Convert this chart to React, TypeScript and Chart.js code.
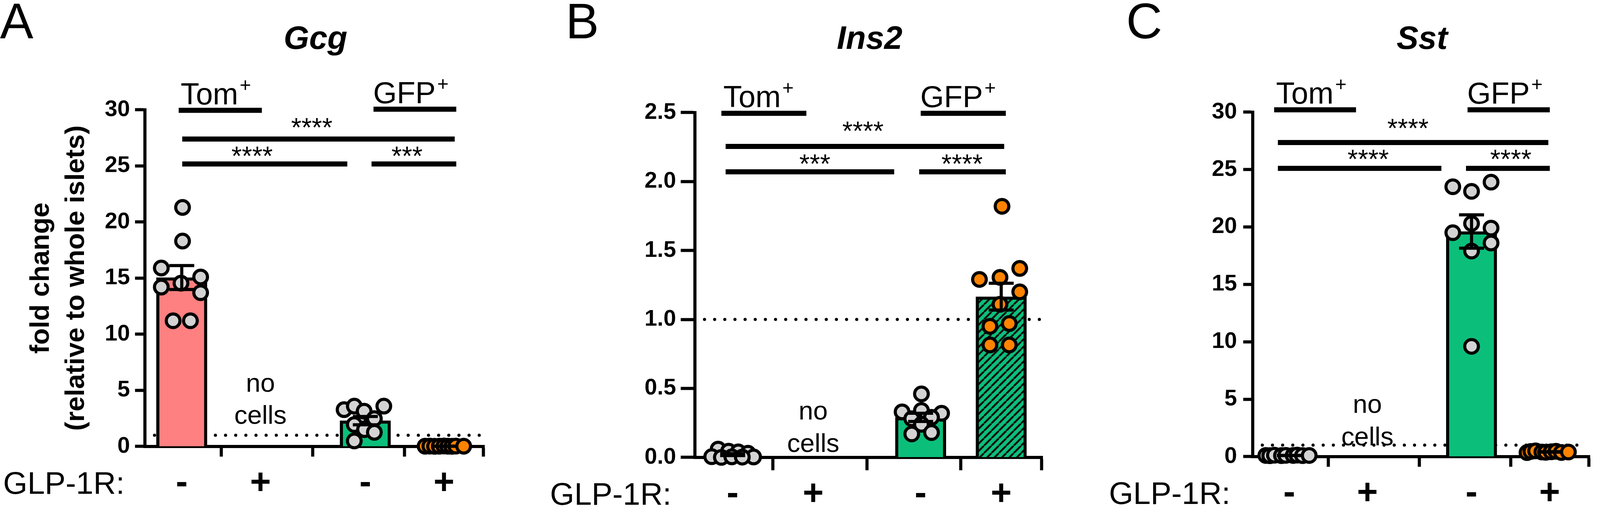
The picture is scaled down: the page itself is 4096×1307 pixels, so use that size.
import React, { useEffect, useRef } from "react";
import { Chart, registerables } from "chart.js";
Chart.register(...registerables);

const S = 4096 / 4100;
const H = 1307;
const FF = '"Liberation Sans", Arial, Helvetica, sans-serif';
const PINK = "#ff8080";
const GREEN = "#0bbf7b";
const GRAY = "#d3d3d3";
const ORANGE = "#ff8300";
const INK = "#000000";

// x categories (GLP-1R status) and their positions on the axis
const glpLabels = ["-", "+", "-", "+"];
const catX = [0, 1, 2.333, 3.333];
const barFills = ["pink", "none", "green", "hatch"];

// ---------- Panel A: Gcg ----------
const gcgMeans = [15.05, null, 2.3, 0.02];
const gcgSems = [1.07, null, 0.37, 0.01];
const gcgTomNeg = [21.3, 18.3, 15.9, 15.1, 14.55, 14.2, 13.7, 11.2, 11.2];
const gcgTomNegJit = [0.01, 0.01, -0.26, 0.24, -0.01, -0.26, 0.24, -0.11, 0.11];
const gcgGfpNeg = [3.28, 3.59, 3.14, 3.59, 2.48, 1.95, 1.5, 1.26, 0.49];
const gcgGfpNegJit = [-0.27, -0.14, -0.015, 0.235, 0.115, -0.14, -0.01, 0.115, -0.14];
const gcgGfpPos = [0.02, 0.03, 0.01, 0.02, 0.04, 0.02, 0.01, 0.03, 0.02];
const gcgGfpPosJit = [-0.24, -0.18, -0.12, -0.06, 0, 0.05, 0.1, 0.15, 0.25];
const gcgTicks = [0, 5, 10, 15, 20, 25, 30];

// ---------- Panel B: Ins2 ----------
const ins2Means = [0.02, null, 0.29, 1.165];
const ins2Sems = [0.007, null, 0.03, 0.097];
const ins2TomNeg = [0.06, 0.045, 0.04, 0.03, 0.003, 0.005, 0.0, 0.004, 0.002];
const ins2TomNegJit = [-0.18, -0.05, 0.07, 0.19, 0.26, -0.26, -0.14, -0.01, 0.12];
const ins2GfpNeg = [0.46, 0.33, 0.34, 0.32, 0.28, 0.29, 0.24, 0.17, 0.18];
const ins2GfpNegJit = [0.01, -0.23, 0.01, 0.26, -0.11, 0.135, 0.01, -0.11, 0.135];
const ins2GfpPos = [1.82, 1.37, 1.305, 1.29, 1.2, 1.11, 0.97, 0.95, 0.815, 0.815];
const ins2GfpPosJit = [0.01, 0.23, -0.015, -0.27, 0.23, -0.015, 0.1, -0.14, -0.14, 0.1];
const ins2Ticks = [0, 0.5, 1.0, 1.5, 2.0, 2.5];

// ---------- Panel C: Sst ----------
const sstMeans = [0.1, null, 19.6, 0.41];
const sstSems = [0.01, null, 1.45, 0.02];
const sstTomNeg = [0.1, 0.08, 0.12, 0.09, 0.11, 0.1, 0.13, 0.09, 0.1];
const sstTomNegJit = [-0.3, -0.25, -0.19, -0.1, -0.045, 0.05, 0.1, 0.17, 0.255];
const sstGfpNeg = [23.5, 23.1, 23.9, 19.5, 20.3, 19.9, 18.6, 17.9, 9.6];
const sstGfpNegJit = [-0.24, 0, 0.25, -0.24, 0, 0.25, 0.25, 0, 0];
const sstGfpPos = [0.35, 0.45, 0.5, 0.4, 0.38, 0.42, 0.46, 0.36, 0.4];
const sstGfpPosJit = [-0.29, -0.24, -0.18, -0.1, -0.05, 0.02, 0.08, 0.15, 0.24];
const sstTicks = [0, 5, 10, 15, 20, 25, 30];

type Group = { cat: number; vals: number[]; jit: number[]; color: string };
type Panel = {
  key: string;
  letter: string;
  letterX: number;
  title: string;
  offset: number;
  width: number;
  area: { l: number; r: number; t: number; b: number };
  yMax: number;
  yTicks: number[];
  decimals: number;
  yTickLen: number;
  yTickPad: number;
  xTickLen: number;
  means: (number | null)[];
  sems: (number | null)[];
  groups: Group[];
  tom: number[];
  gfp: number[];
  bars: number[][];
  stars: [number, number, string][];
  noCellsY: number;
  glpX: number;
  yTitle?: string[];
};

const panels: Panel[] = [
  {
    key: "A", letter: "A", letterX: 0, title: "Gcg", offset: 0, width: 1380,
    area: { l: 371, r: 1242, t: 281, b: 1143 },
    yMax: 30, yTicks: gcgTicks, decimals: 0, yTickLen: 25, yTickPad: 13, xTickLen: 26,
    means: gcgMeans, sems: gcgSems,
    groups: [
      { cat: 0, vals: gcgTomNeg, jit: gcgTomNegJit, color: GRAY },
      { cat: 2, vals: gcgGfpNeg, jit: gcgGfpNegJit, color: GRAY },
      { cat: 3, vals: gcgGfpPos, jit: gcgGfpPosJit, color: ORANGE },
    ],
    tom: [-0.039, 1.018, 29.95], gfp: [2.437, 3.489, 30.05],
    bars: [[0.006, 3.469, 27.39], [0.006, 2.104, 25.17], [2.412, 3.489, 25.17]],
    stars: [[1.652, 28.4, "****"], [0.894, 25.86, "****"], [2.863, 25.86, "***"]],
    noCellsY: 2.0, glpX: 8,
    yTitle: ["fold change", "(relative to whole islets)"],
  },
  {
    key: "B", letter: "B", letterX: 69, title: "Ins2", offset: 1380, width: 1420,
    area: { l: 400, r: 1292, t: 288, b: 1171 },
    yMax: 2.5, yTicks: ins2Ticks, decimals: 1, yTickLen: 36, yTickPad: 12, xTickLen: 33,
    means: ins2Means, sems: ins2Sems,
    groups: [
      { cat: 0, vals: ins2TomNeg, jit: ins2TomNegJit, color: GRAY },
      { cat: 2, vals: ins2GfpNeg, jit: ins2GfpNegJit, color: GRAY },
      { cat: 3, vals: ins2GfpPos, jit: ins2GfpPosJit, color: ORANGE },
    ],
    tom: [-0.14, 0.915, 2.494], gfp: [2.334, 3.39, 2.494],
    bars: [[-0.087, 3.37, 2.254], [-0.087, 2.005, 2.07], [2.315, 3.39, 2.07]],
    stars: [[1.617, 2.362, "****"], [1.02, 2.125, "***"], [2.847, 2.125, "****"]],
    noCellsY: 0.04, glpX: 29,
  },
  {
    key: "C", letter: "C", letterX: 86, title: "Sst", offset: 2800, width: 1300,
    area: { l: 410, r: 1300, t: 287, b: 1169 },
    yMax: 30, yTicks: sstTicks, decimals: 0, yTickLen: 24, yTickPad: 16, xTickLen: 26,
    means: sstMeans, sems: sstSems,
    groups: [
      { cat: 0, vals: sstTomNeg, jit: sstTomNegJit, color: GRAY },
      { cat: 2, vals: sstGfpNeg, jit: sstGfpNegJit, color: GRAY },
      { cat: 3, vals: sstGfpPos, jit: sstGfpPosJit, color: ORANGE },
    ],
    tom: [-0.194, 0.854, 30.2], gfp: [2.282, 3.335, 30.2],
    bars: [[-0.146, 3.316, 27.35], [-0.146, 1.947, 25.1], [2.262, 3.335, 25.1]],
    stars: [[1.519, 28.57, "****"], [1.01, 25.88, "****"], [2.835, 25.88, "****"]],
    noCellsY: 0.99, glpX: 42,
  },
];

const YW = 200;
const XH = 60;

function makeHatch(): CanvasPattern | string {
  const size = Math.round(19 * S);
  const c = document.createElement("canvas");
  c.width = size;
  c.height = size;
  const g = c.getContext("2d");
  if (!g) return GREEN;
  g.fillStyle = GREEN;
  g.fillRect(0, 0, size, size);
  g.strokeStyle = "#111";
  g.lineWidth = 5 * S;
  g.beginPath();
  for (const o of [-size, 0, size]) {
    g.moveTo(o, size);
    g.lineTo(o + size, 0);
  }
  g.stroke();
  return g.createPattern(c, "repeat") || GREEN;
}

function buildConfig(p: Panel, hatch: CanvasPattern | string): any {
  const barPts: any[] = [];
  const barColors: any[] = [];
  p.means.forEach((m, i) => {
    if (m == null) return;
    barPts.push({ x: catX[i], y: m });
    const f = barFills[i];
    barColors.push(f === "pink" ? PINK : f === "green" ? GREEN : hatch);
  });
  const grayPts: any[] = [];
  const orangePts: any[] = [];
  p.groups.forEach((g) =>
    g.vals.forEach((v, k) => (g.color === ORANGE ? orangePts : grayPts).push({ x: catX[g.cat] + g.jit[k], y: v }))
  );
  const ptStyle = (col: string) => ({
    type: "scatter",
    data: col === ORANGE ? orangePts : grayPts,
    showLine: false,
    backgroundColor: col,
    borderColor: INK,
    pointBackgroundColor: col,
    pointBorderColor: INK,
    pointBorderWidth: 8 * S,
    pointRadius: 17.5 * S,
    pointHoverRadius: 17.5 * S,
    clip: false,
    order: 1,
  });

  const deco = {
    id: "deco" + p.key,
    beforeDatasetsDraw(chart: any) {
      const { ctx, chartArea } = chart;
      const y = chart.scales.y;
      const yy = y.getPixelForValue(1);
      ctx.save();
      ctx.strokeStyle = INK;
      ctx.lineWidth = 8 * S;
      ctx.lineCap = "round";
      ctx.setLineDash([0, 26 * S]);
      ctx.beginPath();
      ctx.moveTo(chartArea.left + 25 * S, yy);
      ctx.lineTo(chartArea.right - 8 * S, yy);
      ctx.stroke();
      ctx.restore();
    },
    afterDatasetsDraw(chart: any) {
      const { ctx } = chart;
      const xs = chart.scales.x;
      const ys = chart.scales.y;
      ctx.save();
      ctx.strokeStyle = INK;
      ctx.lineWidth = 8 * S;
      ctx.lineCap = "butt";
      p.means.forEach((m, i) => {
        const e = p.sems[i];
        if (m == null || e == null) return;
        const x = xs.getPixelForValue(catX[i]);
        const y1 = ys.getPixelForValue(m + e);
        const y0 = ys.getPixelForValue(m - e);
        const hw = 32 * S;
        ctx.beginPath();
        ctx.moveTo(x, y0);
        ctx.lineTo(x, y1);
        ctx.moveTo(x - hw, y1);
        ctx.lineTo(x + hw, y1);
        ctx.moveTo(x - hw, y0);
        ctx.lineTo(x + hw, y0);
        ctx.stroke();
      });
      ctx.restore();
    },
    afterDraw(chart: any) {
      const { ctx, chartArea } = chart;
      const xs = chart.scales.x;
      const ys = chart.scales.y;
      const X = (v: number) => xs.getPixelForValue(v);
      const Y = (v: number) => ys.getPixelForValue(v);
      ctx.save();
      ctx.fillStyle = INK;
      ctx.textBaseline = "alphabetic";

      // panel letter
      ctx.font = `${128 * S}px ${FF}`;
      ctx.textAlign = "left";
      ctx.fillText(p.letter, p.letterX * S, 98 * S);

      // gene title
      ctx.font = `italic bold ${84 * S}px ${FF}`;
      ctx.textAlign = "center";
      ctx.fillText(p.title, X(1.7), 125 * S);

      // Tom+ / GFP+ group headers
      const th = 13 * S;
      const header = (seg: number[], label: string, dx: number) => {
        const x1 = X(seg[0]);
        const x2 = X(seg[1]);
        const yc = Y(seg[2]);
        ctx.fillRect(x1, yc - th / 2, x2 - x1, th);
        ctx.textAlign = "left";
        ctx.font = `${78 * S}px ${FF}`;
        const base = yc - th / 2 - 9 * S;
        ctx.fillText(label, x1 + dx * S, base);
        const w = ctx.measureText(label).width;
        ctx.font = `${50 * S}px ${FF}`;
        ctx.fillText("+", x1 + dx * S + w + 4 * S, base - 33 * S);
      };
      header(p.tom, "Tom", 5);
      header(p.gfp, "GFP", -1);

      // significance bars
      p.bars.forEach((b) => {
        const x1 = X(b[0]);
        const x2 = X(b[1]);
        const yc = Y(b[2]);
        ctx.fillRect(x1, yc - th / 2, x2 - x1, th);
      });
      ctx.font = `${68 * S}px ${FF}`;
      ctx.textAlign = "center";
      p.stars.forEach(([sx, sy, txt]) => {
        const m = ctx.measureText(txt);
        const base = Y(sy) - (m.actualBoundingBoxDescent || 0);
        ctx.fillText(txt, X(sx), base);
      });

      // "no cells"
      ctx.font = `${67 * S}px ${FF}`;
      ctx.textAlign = "center";
      const cb = Y(p.noCellsY);
      ctx.fillText("cells", X(catX[1]), cb);
      ctx.fillText("no", X(catX[1]), cb - 83 * S);

      // GLP-1R row
      const rb = chartArea.bottom + 121 * S;
      ctx.font = `${80 * S}px ${FF}`;
      ctx.textAlign = "left";
      ctx.fillText("GLP-1R:", p.glpX * S, rb);
      ctx.font = `bold ${92 * S}px ${FF}`;
      ctx.textAlign = "center";
      glpLabels.forEach((l, i) => ctx.fillText(l, X(catX[i]), rb));

      // y axis title
      if (p.yTitle) {
        ctx.font = `bold ${69 * S}px ${FF}`;
        ctx.textAlign = "center";
        ctx.textBaseline = "middle";
        const cy = (chartArea.top + chartArea.bottom) / 2;
        const xsPos = [106, 196];
        p.yTitle.forEach((t, i) => {
          ctx.save();
          ctx.translate(xsPos[i] * S, cy);
          ctx.rotate(-Math.PI / 2);
          ctx.fillText(t, 0, 0);
          ctx.restore();
        });
      }
      ctx.restore();
    },
  };

  const cw = Math.round(p.width * S);
  return {
    type: "bar",
    data: {
      datasets: [
        {
          type: "bar",
          data: barPts,
          backgroundColor: barColors,
          borderColor: INK,
          borderWidth: 8 * S,
          borderSkipped: "start",
          barThickness: 130 * S,
          order: 3,
        },
        ptStyle(GRAY),
        ptStyle(ORANGE),
      ],
    },
    options: {
      responsive: false,
      animation: false,
      devicePixelRatio: 1,
      events: [],
      layout: {
        padding: {
          left: (p.area.l - YW) * S,
          right: cw - p.area.r * S,
          top: p.area.t * S,
          bottom: H - p.area.b * S - XH * S,
        },
      },
      plugins: { legend: { display: false }, tooltip: { enabled: false }, title: { display: false } },
      scales: {
        x: {
          type: "linear",
          min: -0.47,
          max: 3.85,
          offset: false,
          grid: {
            display: true,
            drawOnChartArea: false,
            drawTicks: true,
            tickLength: p.xTickLen * S,
            tickWidth: 8 * S,
            tickColor: INK,
            color: INK,
          },
          border: { display: true, width: 8 * S, color: INK },
          ticks: { display: false },
          afterBuildTicks: (s: any) => {
            s.ticks = catX.map((v) => ({ value: v }));
          },
          afterFit: (s: any) => {
            s.height = XH * S;
          },
        },
        y: {
          type: "linear",
          min: 0,
          max: p.yMax,
          grid: {
            display: true,
            drawOnChartArea: false,
            drawTicks: true,
            tickLength: p.yTickLen * S,
            tickWidth: 8 * S,
            tickColor: INK,
            color: INK,
          },
          border: { display: true, width: 8 * S, color: INK },
          ticks: {
            color: INK,
            padding: p.yTickPad * S,
            font: { family: FF, size: 58 * S, weight: "bold" },
            callback: (v: any) => Number(v).toFixed(p.decimals),
          },
          afterBuildTicks: (s: any) => {
            s.ticks = p.yTicks.map((v) => ({ value: v }));
          },
          afterFit: (s: any) => {
            s.width = YW * S;
          },
        },
      },
    },
    plugins: [deco],
  };
}

function PanelChart({ p }: { p: Panel }) {
  const ref = useRef<HTMLCanvasElement>(null);
  useEffect(() => {
    const c = ref.current;
    if (!c) return;
    const chart = new Chart(c, buildConfig(p, makeHatch()));
    return () => chart.destroy();
  }, [p]);
  const w = Math.round(p.width * S);
  return (
    <canvas
      ref={ref}
      width={w}
      height={H}
      style={{ position: "absolute", left: Math.round(p.offset * S), top: 0, width: w, height: H }}
    />
  );
}

export default function App() {
  return (
    <div style={{ position: "absolute", left: 0, top: 0, width: 4096, height: H, background: "#fff", overflow: "hidden" }}>
      {panels.map((p) => (
        <PanelChart key={p.key} p={p} />
      ))}
    </div>
  );
}
